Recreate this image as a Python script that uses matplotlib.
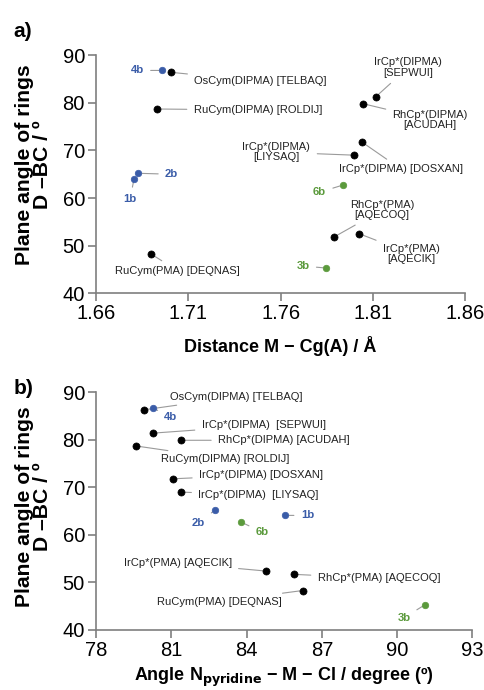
import matplotlib
matplotlib.use("Agg")
import matplotlib.pyplot as plt

plt.rcParams['font.family'] = ['Liberation Sans', 'DejaVu Sans']

# ---------------- data: panel a ----------------
a_labels = ["OsCym(DIPMA) [TELBAQ]", "RuCym(DIPMA) [ROLDIJ]", "IrCp*(DIPMA)\n[SEPWUI]",
            "RhCp*(DIPMA)\n[ACUDAH]", "IrCp*(DIPMA) [DOSXAN]", "IrCp*(DIPMA)\n[LIYSAQ]",
            "RhCp*(PMA)\n[AQECOQ]", "IrCp*(PMA)\n[AQECIK]", "RuCym(PMA) [DEQNAS]"]
a_dist = [1.7008, 1.6929, 1.8117, 1.8048, 1.8043, 1.8000, 1.7889, 1.8026, 1.6896]
a_angle = [86.4, 78.7, 81.3, 79.8, 71.7, 69.0, 51.8, 52.5, 48.3]

a_blue_labels = ["4b", "2b", "1b"]
a_blue_dist = [1.6958, 1.6826, 1.6806]
a_blue_angle = [86.8, 65.2, 64.0]

a_green_labels = ["6b", "3b"]
a_green_dist = [1.7936, 1.7846]
a_green_angle = [62.7, 45.3]

# ---------------- data: panel b ----------------
b_labels = ["OsCym(DIPMA) [TELBAQ]", "IrCp*(DIPMA)  [SEPWUI]", "RhCp*(DIPMA) [ACUDAH]",
            "RuCym(DIPMA) [ROLDIJ]", "IrCp*(DIPMA) [DOSXAN]", "IrCp*(DIPMA)  [LIYSAQ]",
            "IrCp*(PMA) [AQECIK]", "RhCp*(PMA) [AQECOQ]", "RuCym(PMA) [DEQNAS]"]
b_npy = [79.9, 80.26, 81.39, 79.6, 81.07, 81.4, 84.76, 85.88, 86.24]
b_angle = [86.3, 81.4, 79.9, 78.7, 71.8, 69.0, 52.4, 51.7, 48.3]

b_blue_labels = ["4b", "2b", "1b"]
b_blue_npy = [80.26, 82.73, 85.55]
b_blue_angle = [86.7, 65.2, 64.1]

b_green_labels = ["6b", "3b"]
b_green_npy = [83.78, 91.11]
b_green_angle = [62.7, 45.3]

a_xticks = [1.66, 1.71, 1.76, 1.81, 1.86]
b_xticks = [78, 81, 84, 87, 90, 93]
yticks = [40, 50, 60, 70, 80, 90]

# label offsets (pixels) and alignment
a_off = [(23, -9, 'left'), (37, -1, 'left'), (32, 29, 'center'), (67, -16, 'center'),
         (39, -27, 'center'), (-78, 3, 'center'), (48, 27, 'center'), (52, -20, 'center'),
         (27, -17, 'center')]
a_blue_off = [(-25, 0), (34, -1), (-4, -20)]
a_green_off = [(-23, -7), (-23, 2)]

b_off = [(26, 13, 'left'), (49, 8, 'left'), (37, 0, 'left'), (25, -13, 'left'),
         (26, 4, 'left'), (17, -3, 'left'), (-34, 8, 'right'), (24, -4, 'left'),
         (-21, -11, 'right')]
b_blue_off = [(18, -9), (-16, -13), (22, 0)]
b_green_off = [(21, -10), (-21, -13)]

BLUE = '#3a5ca8'
GREEN = '#5b9a3c'
LINE = '#9a9a9a'
SPINE = '#7f7f7f'

fig = plt.figure(figsize=(4.85, 6.9), dpi=100)
ax_a = fig.add_axes([0.198, 0.575, 0.761, 0.345])
ax_b = fig.add_axes([0.198, 0.087, 0.776, 0.3445])


def style(ax, xticks, xlim, lx, ly):
    ax.set_xlim(*xlim)
    ax.set_ylim(40, 90)
    ax.set_xticks(xticks)
    ax.set_yticks(yticks)
    for s in ['top', 'right']:
        ax.spines[s].set_visible(False)
    for s in ['left', 'bottom']:
        ax.spines[s].set_color(SPINE)
        ax.spines[s].set_linewidth(1.2)
    ax.tick_params(axis='both', direction='out', length=6, width=1.2, color=SPINE,
                   labelsize=14.5, pad=2)
    ax.set_ylabel("Plane angle of rings\nD \u2013BC / \u00ba", fontsize=15.2,
                  fontweight='bold', linespacing=0.95)
    ax.yaxis.set_label_coords(lx, ly)


def draw(ax, xs, ys, labels, offs, color, fsize, weight, tcolor, s):
    ax.scatter(xs, ys, s=s, color=color, zorder=3, edgecolors=color, linewidths=0.5)
    for x, y, lab, off in zip(xs, ys, labels, offs):
        dx, dy = off[0], off[1]
        ha = off[2] if len(off) > 2 else 'center'
        ax.annotate(lab, xy=(x, y), xytext=(dx, dy), textcoords='offset pixels',
                    ha=ha, va='center', fontsize=fsize, fontweight=weight, color=tcolor,
                    linespacing=1.05,
                    arrowprops=dict(arrowstyle='-', color=LINE, lw=0.8,
                                    shrinkA=3, shrinkB=2), zorder=2)


# panel a
style(ax_a, a_xticks, (1.66, 1.86), -0.119, 0.54)
ax_a.set_xticklabels([f"{v:.2f}" for v in a_xticks])
draw(ax_a, a_dist, a_angle, a_labels, a_off, 'black', 8, 'normal', '#222222', 26)
draw(ax_a, a_blue_dist, a_blue_angle, a_blue_labels, a_blue_off, BLUE, 8.2, 'bold', BLUE, 22)
draw(ax_a, a_green_dist, a_green_angle, a_green_labels, a_green_off, GREEN, 8.2, 'bold', GREEN, 22)
ax_a.set_xlabel("Distance M \u2212 Cg(A) / \u00c5", fontsize=13, fontweight='bold', labelpad=9)

# panel b
style(ax_b, b_xticks, (78, 93), -0.117, 0.52)
draw(ax_b, b_npy, b_angle, b_labels, b_off, 'black', 8, 'normal', '#222222', 26)
draw(ax_b, b_blue_npy, b_blue_angle, b_blue_labels, b_blue_off, BLUE, 8.2, 'bold', BLUE, 22)
draw(ax_b, b_green_npy, b_green_angle, b_green_labels, b_green_off, GREEN, 8.2, 'bold', GREEN, 22)
ax_b.set_xlabel("Angle N$_{\\mathbf{pyridine}}$ \u2212 M \u2212 Cl / degree (\u00ba)",
                fontsize=13, fontweight='bold', labelpad=4)

fig.text(0.027, 0.955, "a)", fontsize=15, fontweight='bold', va='center')
fig.text(0.027, 0.437, "b)", fontsize=15, fontweight='bold', va='center')

fig.savefig("out.png", dpi=100)
